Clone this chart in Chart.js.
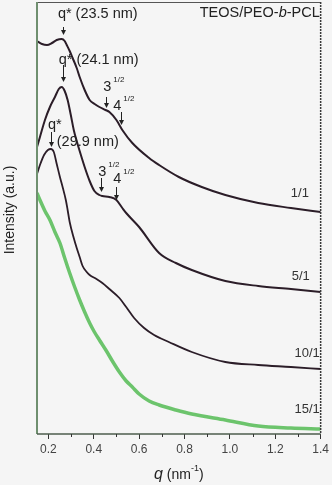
<!DOCTYPE html>
<html><head><meta charset="utf-8">
<script src="https://cdn.jsdelivr.net/npm/chart.js@4"></script>
<style>html,body{margin:0;padding:0;background:#f5f5f5;overflow:hidden}</style>
</head><body><canvas id="c" width="332" height="485"></canvas>
<script>
// q (nm^-1) and intensity (a.u., arbitrary offset units)
const q_1_1 = [0.15,0.172,0.194,0.216,0.237,0.259,0.272,0.281,0.294,0.307,0.325,0.338,0.360,0.382,0.404,0.425,0.452,0.469,0.500,0.526,0.570,0.644,0.688,0.775,0.876,0.980,1.125,1.269,1.40];
const I_1_1 = [393,390,389,391,394,395,393,389,383,376,366,357,344,334,330,327,324,322,314,304,291,276,269,257,247,239,231,226,222];
const q_5_1 = [0.15,0.163,0.185,0.207,0.229,0.246,0.259,0.272,0.285,0.299,0.312,0.325,0.338,0.360,0.382,0.403,0.425,0.438,0.469,0.500,0.526,0.543,0.600,0.688,0.762,0.832,0.980,1.125,1.269,1.40];
const I_5_1 = [287,297,314,327,337,345,347,343,334,319,304,293,283,267,253,243,239,238,237,234,226,221,207,181,171,164,153,148,145,142];
const q_10_1 = [0.15,0.163,0.181,0.198,0.211,0.224,0.237,0.251,0.264,0.277,0.285,0.294,0.312,0.325,0.338,0.351,0.369,0.382,0.412,0.438,0.469,0.513,0.543,0.578,0.622,0.666,0.731,0.832,0.980,1.125,1.269,1.40];
const I_10_1 = [260,269,279,284,285,282,270,257,246,234,224,212,196,186,177,168,162,159,155,151,145,136,127,116,106,99,92,82,72,69,67,65];
const q_15_1 = [0.15,0.163,0.185,0.207,0.229,0.251,0.272,0.294,0.316,0.338,0.360,0.382,0.403,0.425,0.456,0.482,0.513,0.543,0.570,0.600,0.644,0.688,0.762,0.832,0.980,1.125,1.269,1.40];
const I_15_1 = [241,234,223,214,202,191,176,161,147,134,122,111,102,94,83,73,62,53,47,40,33,29,24,20,14,8,6,5];

const seriesNames = ['1/1','5/1','10/1','15/1'];
const xTicks = [0.2,0.4,0.6,0.8,1.0,1.2,1.4];
const xMinorTicks = [0.3,0.5,0.7,0.9,1.1,1.3];

// annotation anchors in data units
const peakTexts = [
  {t:'q* (23.5 nm)', q:0.242, i:420},
  {t:'q* (24.1 nm)', q:0.246, i:374},
  {t:'q*', q:0.198, i:309},
  {t:'(29.9 nm)', q:0.237, i:292}
];
const rootTexts = [
  {b:'3', q:0.460, i:347},
  {b:'4', q:0.504, i:328},
  {b:'3', q:0.438, i:262},
  {b:'4', q:0.504, i:255}
];
const arrows = [
  {q:0.264, i1:407, i2:399},
  {q:0.264, i1:369, i2:352},
  {q:0.211, i1:302, i2:287},
  {q:0.456, i1:337, i2:326},
  {q:0.521, i1:322, i2:309},
  {q:0.434, i1:256, i2:242},
  {q:0.500, i1:247, i2:234}
];
const seriesLabelPos = [
  {q:1.348, i:241},
  {q:1.352, i:158},
  {q:1.396, i:81},
  {q:1.396, i:25}
];

const pts = (qs, is) => qs.map((v,k)=>({x:v, y:is[k]}));
const DARK = '#2b1d28', GREEN = '#6cc46c';
const FONT = '"Liberation Sans", Arial, sans-serif';

const decor = {
  id:'decor',
  afterDraw(chart){
    const ctx = chart.ctx, a = chart.chartArea;
    const xs = chart.scales.x, ys = chart.scales.y;
    const X = v => xs.getPixelForValue(v), Y = v => ys.getPixelForValue(v);
    ctx.save();
    // frame
    ctx.lineWidth = 1; ctx.strokeStyle = '#555';
    ctx.beginPath(); ctx.moveTo(a.left, a.top+0.5); ctx.lineTo(a.right, a.top+0.5); ctx.stroke();
    ctx.setLineDash([2,1]); ctx.lineWidth = 1.5; ctx.strokeStyle = '#3a3a3a';
    ctx.beginPath(); ctx.moveTo(a.right, a.top); ctx.lineTo(a.right, a.bottom); ctx.stroke();
    ctx.setLineDash([]);
    ctx.lineWidth = 2; ctx.strokeStyle = '#6f8f6f';
    ctx.beginPath(); ctx.moveTo(a.left, a.top); ctx.lineTo(a.left, a.bottom); ctx.stroke();
    ctx.lineWidth = 1.5; ctx.strokeStyle = '#4d5d4d';
    ctx.beginPath(); ctx.moveTo(a.left, a.bottom); ctx.lineTo(a.right, a.bottom); ctx.stroke();
    // minor ticks
    ctx.lineWidth = 1; ctx.strokeStyle = '#333';
    xMinorTicks.forEach(v => { const x = Math.round(X(v))+0.5; ctx.beginPath(); ctx.moveTo(x, a.bottom); ctx.lineTo(x, a.bottom+3); ctx.stroke(); });
    // arrows
    ctx.fillStyle = '#222'; ctx.strokeStyle = '#222'; ctx.lineWidth = 1;
    arrows.forEach(r => {
      const x = Math.round(X(r.q))+0.5, y1 = Y(r.i1), y2 = Y(r.i2);
      ctx.beginPath(); ctx.moveTo(x, y1); ctx.lineTo(x, y2-4); ctx.stroke();
      ctx.beginPath(); ctx.moveTo(x-2.5, y2-5); ctx.lineTo(x+2.5, y2-5); ctx.lineTo(x, y2); ctx.closePath(); ctx.fill();
    });
    // texts
    ctx.fillStyle = '#222'; ctx.textBaseline = 'middle';
    ctx.font = '14.5px ' + FONT; ctx.textAlign = 'left';
    peakTexts.forEach(p => ctx.fillText(p.t, X(p.q), Y(p.i)));
    rootTexts.forEach(r => {
      ctx.font = '14.5px ' + FONT; ctx.textAlign = 'center';
      const x = X(r.q), y = Y(r.i);
      ctx.fillText(r.b, x, y);
      ctx.font = '8px ' + FONT; ctx.textAlign = 'left';
      ctx.fillText('1/2', x+6, y-7);
    });
    // series labels
    ctx.font = '13px ' + FONT; ctx.textAlign = 'right'; ctx.fillStyle = '#333';
    seriesNames.forEach((n,k) => ctx.fillText(n, X(seriesLabelPos[k].q), Y(seriesLabelPos[k].i)));
    // sample title with italic b
    {
      const parts = [['TEOS/PEO-','14.5px '],['b','italic 14.5px '],['-PCL','14.5px ']];
      let w = 0; parts.forEach(p => { ctx.font = p[1]+FONT; w += ctx.measureText(p[0]).width; });
      let x = X(1.396) - w; const y = Y(421);
      ctx.textAlign = 'left'; ctx.fillStyle = '#222';
      parts.forEach(p => { ctx.font = p[1]+FONT; ctx.fillText(p[0], x, y); x += ctx.measureText(p[0]).width; });
    }
    // x axis title: q (nm^-1)
    {
      const y = 475;
      const segs = [['q','italic 16px ',0],[' (nm','14px ',0],['-1','9px ',-6],[')','14px ',0]];
      let w = 0; segs.forEach(s => { ctx.font = s[1]+FONT; w += ctx.measureText(s[0]).width; });
      let x = (a.left + a.right)/2 - w/2;
      ctx.textAlign = 'left'; ctx.fillStyle = '#222';
      segs.forEach(s => { ctx.font = s[1]+FONT; ctx.fillText(s[0], x, y + s[2]); x += ctx.measureText(s[0]).width; });
    }
    // y axis title
    ctx.save(); ctx.translate(10, 210); ctx.rotate(-Math.PI/2);
    ctx.font = '14px ' + FONT; ctx.textAlign = 'center'; ctx.fillStyle = '#222';
    ctx.fillText('Intensity (a.u.)', 0, 0);
    ctx.restore();
    ctx.restore();
  }
};

new Chart(document.getElementById('c'), {
  type:'line',
  data:{ datasets:[
    {label:seriesNames[0], data:pts(q_1_1,I_1_1), borderColor:DARK, borderWidth:2},
    {label:seriesNames[1], data:pts(q_5_1,I_5_1), borderColor:DARK, borderWidth:2},
    {label:seriesNames[2], data:pts(q_10_1,I_10_1), borderColor:DARK, borderWidth:1.8},
    {label:seriesNames[3], data:pts(q_15_1,I_15_1), borderColor:GREEN, borderWidth:3.5}
  ]},
  options:{
    responsive:false, animation:false, devicePixelRatio:1,
    layout:{padding:{left:37, right:9, top:2, bottom:0}},
    elements:{point:{radius:0}, line:{cubicInterpolationMode:'monotone', fill:false}},
    plugins:{legend:{display:false}, tooltip:{enabled:false}},
    scales:{
      x:{type:'linear', min:0.15, max:1.4,
        afterBuildTicks: s => { s.ticks = xTicks.map(v=>({value:v})); },
        afterFit: s => { s.height = 51; },
        grid:{drawOnChartArea:false, drawTicks:true, tickLength:5, tickColor:'#333', tickWidth:1},
        border:{display:false},
        ticks:{padding:3, color:'#444', font:{family:FONT, size:12}, maxRotation:0, autoSkip:false,
          callback: v => v.toFixed(1)}
      },
      y:{type:'linear', min:0, max:432, display:false}
    }
  },
  plugins:[decor]
});
</script></body></html>
